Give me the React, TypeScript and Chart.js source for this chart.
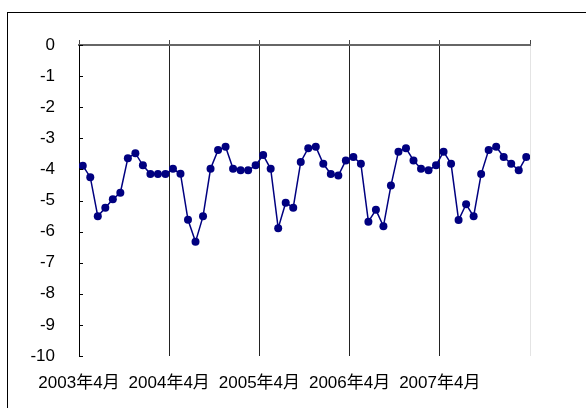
import React, { useEffect, useRef } from "react";
import { Chart, registerables } from "chart.js";

Chart.register(...registerables);

// Monthly values, April 2003 .. March 2008
const values: number[] = [
  -3.88, -4.25, -5.51, -5.23, -4.96, -4.75, -3.64, -3.48, -3.87, -4.15, -4.15, -4.15,
  -3.98, -4.14, -5.62, -6.33, -5.51, -3.98, -3.38, -3.27, -3.98, -4.03, -4.03, -3.87,
  -3.54, -3.98, -5.89, -5.07, -5.23, -3.76, -3.32, -3.27, -3.82, -4.15, -4.2, -3.71,
  -3.6, -3.82, -5.68, -5.3, -5.83, -4.52, -3.43, -3.32, -3.71, -3.98, -4.03, -3.87,
  -3.43, -3.82, -5.63, -5.12, -5.51, -4.15, -3.38, -3.27, -3.6, -3.82, -4.03, -3.6,
];

// Category-axis labels, one every 12 months
const yearLabels: string[] = ["2003年4月", "2004年4月", "2005年4月", "2006年4月", "2007年4月"];

const yMin = -10;
const yMax = 0;
const monthsPerLabel = 12;

const FONT = "'Liberation Sans', Arial, 'Noto Sans CJK JP', sans-serif";

const framePlugin = {
  id: "frame",
  beforeDraw(chart: any) {
    const ctx = chart.ctx;
    ctx.save();
    ctx.fillStyle = "#fff";
    ctx.fillRect(0, 0, chart.width, chart.height);
    ctx.strokeStyle = "#000";
    ctx.lineWidth = 1;
    ctx.strokeRect(7.5, 12.5, 800, 600);
    ctx.restore();
  },
  afterDraw(chart: any) {
    const ctx = chart.ctx;
    const ys = chart.scales.y;
    const left = chart.chartArea.left;
    ctx.save();
    ctx.strokeStyle = "#000";
    ctx.lineWidth = 1;
    ys.ticks.forEach((t: any) => {
      const py = Math.round(ys.getPixelForValue(t.value)) + 0.5;
      ctx.beginPath();
      ctx.moveTo(left, py);
      ctx.lineTo(left + 4, py);
      ctx.stroke();
    });
    ctx.restore();
  },
};

export default function App() {
  const ref = useRef<HTMLCanvasElement | null>(null);

  useEffect(() => {
    if (!ref.current) return;
    const n = values.length;
    const chart = new Chart(ref.current, {
      type: "line",
      data: {
        datasets: [
          {
            data: values.map((y, i) => ({ x: i + 0.5, y })),
            borderColor: "#000080",
            backgroundColor: "#000080",
            borderWidth: 1.5,
            pointRadius: 4,
            pointBackgroundColor: "#000080",
            pointBorderColor: "#000080",
            pointBorderWidth: 0,
            tension: 0,
          },
        ],
      },
      options: {
        responsive: false,
        animation: false,
        events: [],
        layout: { padding: { left: 0, top: 40, right: 56, bottom: 0 } },
        plugins: { legend: { display: false }, tooltip: { enabled: false } },
        scales: {
          x: {
            type: "linear",
            position: "bottom",
            min: 0,
            max: n,
            afterFit: (s: any) => {
              s.height = 52;
            },
            ticks: {
              stepSize: monthsPerLabel,
              autoSkip: false,
              maxRotation: 0,
              padding: 17,
              color: "#000",
              font: { family: FONT, size: 17 },
              callback: (v: any) => yearLabels[Math.round(Number(v) / monthsPerLabel)] ?? "",
            },
            grid: {
              drawTicks: false,
              lineWidth: 1,
              color: (c: any) => (c.tick && c.tick.value === n ? "#e4e4e4" : "#222"),
            },
            border: { display: false },
          },
          x2: {
            type: "linear",
            position: "top",
            min: 0,
            max: n,
            afterFit: (s: any) => {
              s.height = 5;
            },
            ticks: { display: false, stepSize: monthsPerLabel },
            grid: { drawOnChartArea: false, drawTicks: true, tickLength: 5, color: "#444" },
            border: { display: true, color: "#666", width: 2 },
          },
          y: {
            min: yMin,
            max: yMax,
            afterFit: (s: any) => {
              s.width = 79;
            },
            ticks: {
              stepSize: 1,
              padding: 24,
              color: "#000",
              font: { family: FONT, size: 17 },
            },
            grid: { drawOnChartArea: false, drawTicks: false },
            border: { display: true, color: "#000", width: 1 },
          },
        },
      },
      plugins: [framePlugin],
    });
    return () => chart.destroy();
  }, []);

  return (
    <div style={{ position: "fixed", left: 0, top: 0, width: 586, height: 408, background: "#fff" }}>
      <canvas ref={ref} width={586} height={408} style={{ display: "block" }} />
    </div>
  );
}
